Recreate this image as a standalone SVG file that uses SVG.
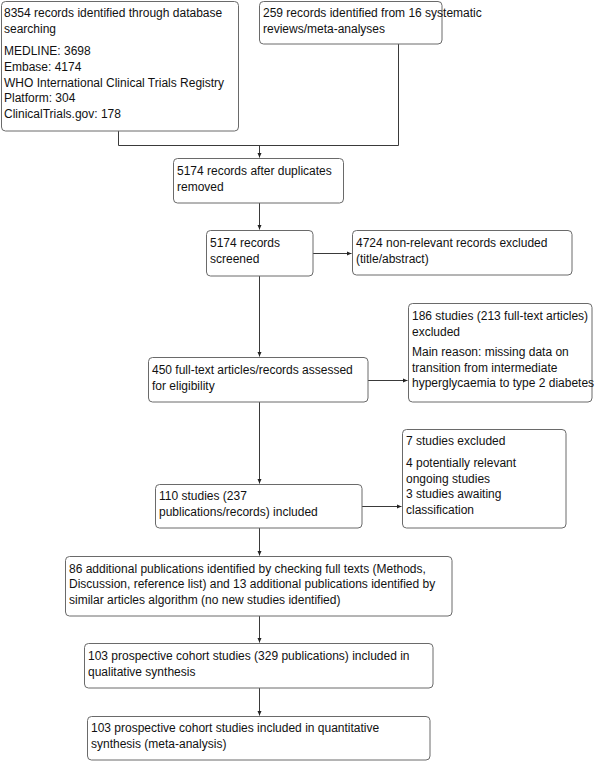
<svg xmlns="http://www.w3.org/2000/svg" width="601" height="761" viewBox="0 0 601 761">
<style>
.box{fill:#fff;stroke:#6a6a6a;stroke-width:1}
text{font-family:"Liberation Sans",Arial,sans-serif;font-size:12px;fill:#111}
.ln{fill:none;stroke:#3a3a3a;stroke-width:1}
</style>
<defs>
<marker id="ah" markerWidth="5" markerHeight="5" refX="4.5" refY="2.5" orient="auto" markerUnits="userSpaceOnUse">
<path d="M0,0.5 L4.5,2.5 L0,4.5 Z" fill="#222"/>
</marker>
</defs>
<rect width="601" height="761" fill="#fff"/>
<g id="connectors">
<path class="ln" d="M118.5,131 V145.5 H398.5 V44"/>
<path class="ln" d="M259.5,145.5 V157.5" marker-end="url(#ah)"/>
<path class="ln" d="M259.5,203 V229.5" marker-end="url(#ah)"/>
<path class="ln" d="M313,253.5 H351.5" marker-end="url(#ah)"/>
<path class="ln" d="M259.5,276 V356.5" marker-end="url(#ah)"/>
<path class="ln" d="M368,380.5 H407.5" marker-end="url(#ah)"/>
<path class="ln" d="M259.5,402 V483.5" marker-end="url(#ah)"/>
<path class="ln" d="M362,506.5 H401.5" marker-end="url(#ah)"/>
<path class="ln" d="M259.5,528 V555.5" marker-end="url(#ah)"/>
<path class="ln" d="M259.5,616 V642.5" marker-end="url(#ah)"/>
<path class="ln" d="M259.5,688 V715.5" marker-end="url(#ah)"/>
</g>
<g id="n1">
<rect class="box" x="1.5" y="1.5" width="237" height="129.5" rx="4"/>
<text x="4" y="17">8354 records identified through database</text>
<text x="4" y="32.5">searching</text>
<text x="4" y="55">MEDLINE: 3698</text>
<text x="4" y="71">Embase: 4174</text>
<text x="4" y="86.5">WHO International Clinical Trials Registry</text>
<text x="4" y="102">Platform: 304</text>
<text x="4" y="118">ClinicalTrials.gov: 178</text>
</g>
<g id="n2">
<rect class="box" x="259.5" y="1.5" width="182.5" height="42.5" rx="4"/>
<text x="263" y="17">259 records identified from 16 systematic</text>
<text x="263" y="32.5">reviews/meta-analyses</text>
</g>
<g id="n3">
<rect class="box" x="173.5" y="158.5" width="170" height="44.5" rx="4"/>
<text x="177" y="175">5174 records after duplicates</text>
<text x="177" y="190.5">removed</text>
</g>
<g id="n4">
<rect class="box" x="206.5" y="230.5" width="106.5" height="45.5" rx="4"/>
<text x="210" y="247">5174 records</text>
<text x="210" y="262.5">screened</text>
</g>
<g id="n5">
<rect class="box" x="352.5" y="230.5" width="219.5" height="44.5" rx="4"/>
<text x="356" y="247">4724 non-relevant records excluded</text>
<text x="356" y="262.5">(title/abstract)</text>
</g>
<g id="n6">
<rect class="box" x="408.5" y="303.5" width="183.5" height="98.5" rx="4"/>
<text x="412" y="320">186 studies (213 full-text articles)</text>
<text x="412" y="335.5">excluded</text>
<text x="412" y="356">Main reason: missing data on</text>
<text x="412" y="371.5">transition from intermediate</text>
<text x="412" y="387">hyperglycaemia to type 2 diabetes</text>
</g>
<g id="n7">
<rect class="box" x="148.5" y="357.5" width="219.5" height="44.5" rx="4"/>
<text x="152" y="374">450 full-text articles/records assessed</text>
<text x="152" y="389.5">for eligibility</text>
</g>
<g id="n8">
<rect class="box" x="155.5" y="484.5" width="206.5" height="43.5" rx="4"/>
<text x="159" y="500">110 studies (237</text>
<text x="159" y="515.5">publications/records) included</text>
</g>
<g id="n9">
<rect class="box" x="402.5" y="429.5" width="163.5" height="98.5" rx="4"/>
<text x="406" y="445">7 studies excluded</text>
<text x="406" y="467">4 potentially relevant</text>
<text x="406" y="482.5">ongoing studies</text>
<text x="406" y="498">3 studies awaiting</text>
<text x="406" y="513.5">classification</text>
</g>
<g id="n10">
<rect class="box" x="65.5" y="556.5" width="386.5" height="59.5" rx="4"/>
<text x="69" y="572.5">86 additional publications identified by checking full texts (Methods,</text>
<text x="69" y="588">Discussion, reference list) and 13 additional publications identified by</text>
<text x="69" y="603.5">similar articles algorithm (no new studies identified)</text>
</g>
<g id="n11">
<rect class="box" x="84.5" y="643.5" width="348.5" height="44.5" rx="4"/>
<text x="88" y="660">103 prospective cohort studies (329 publications) included in</text>
<text x="88" y="675.5">qualitative synthesis</text>
</g>
<g id="n12">
<rect class="box" x="87.5" y="716.5" width="342.5" height="43.5" rx="4"/>
<text x="91" y="732">103 prospective cohort studies included in quantitative</text>
<text x="91" y="747.5">synthesis (meta-analysis)</text>
</g>
</svg>
